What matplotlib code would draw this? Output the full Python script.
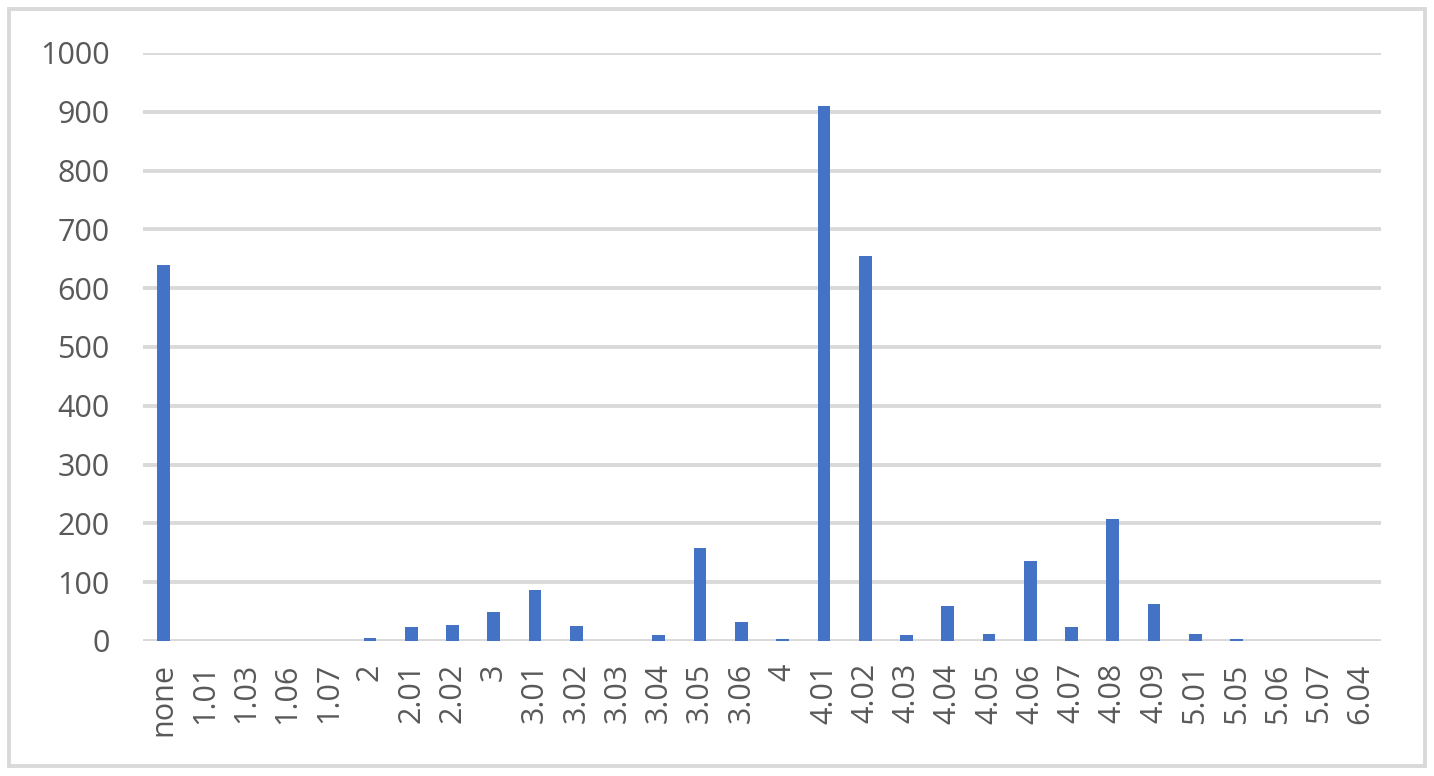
import numpy as np
import matplotlib.pyplot as plt
from matplotlib.patches import Rectangle
###############################################################################
plt.rcParams['font.family'] = ['Open Sans', 'DejaVu Sans']

categories = ['none', '1.01', '1.03', '1.06', '1.07', '2', '2.01', '2.02', '3',
              '3.01', '3.02', '3.03', '3.04', '3.05', '3.06', '4', '4.01',
              '4.02', '4.03', '4.04', '4.05', '4.06', '4.07', '4.08', '4.09',
              '5.01', '5.05', '5.06', '5.07', '6.04']
counts = [640, 0, 0, 0, 0, 5, 24, 27, 49, 87, 26, 0, 10, 158, 32, 3, 910,
          655, 10, 60, 12, 136, 24, 208, 63, 12, 3, 0, 0, 0]
yticks = [0, 100, 200, 300, 400, 500, 600, 700, 800, 900, 1000]
###############################################################################
BAR_COLOR = '#4472C4'
GRID_COLOR = '#D9D9D9'
TEXT_COLOR = '#595959'

fig = plt.figure(figsize=(14.34, 7.76), dpi=100)
ax = fig.add_axes([143 / 1434, 1 - 641 / 776, (1381 - 143) / 1434, (641 - 53) / 776])

xpos = np.arange(len(categories))
ax.bar(xpos, counts, width=0.31, color=BAR_COLOR, zorder=3)

ax.set_xlim(-0.5, len(categories) - 0.5)
ax.set_ylim(0, 1000)
ax.set_yticks(yticks)
ax.set_yticklabels([str(v) for v in yticks])
ax.set_xticks(xpos)
ax.set_xticklabels(categories, rotation=90, va='top', ha='center')

ax.yaxis.grid(True, color=GRID_COLOR, linewidth=2.8, zorder=0)
ax.set_axisbelow(True)
for side in ['top', 'right', 'left', 'bottom']:
    ax.spines[side].set_visible(False)
ax.tick_params(axis='both', length=0, colors=TEXT_COLOR, labelsize=22)
ax.tick_params(axis='y', pad=24)
ax.tick_params(axis='x', pad=16)

# chart border
fig.patches.append(Rectangle((9 / 1434, 1 - 766 / 776), 1416 / 1434, 757 / 776,
                             transform=fig.transFigure, fill=False,
                             edgecolor=GRID_COLOR, linewidth=2.8))

plt.savefig('out.png', dpi=100)
print('finished')
